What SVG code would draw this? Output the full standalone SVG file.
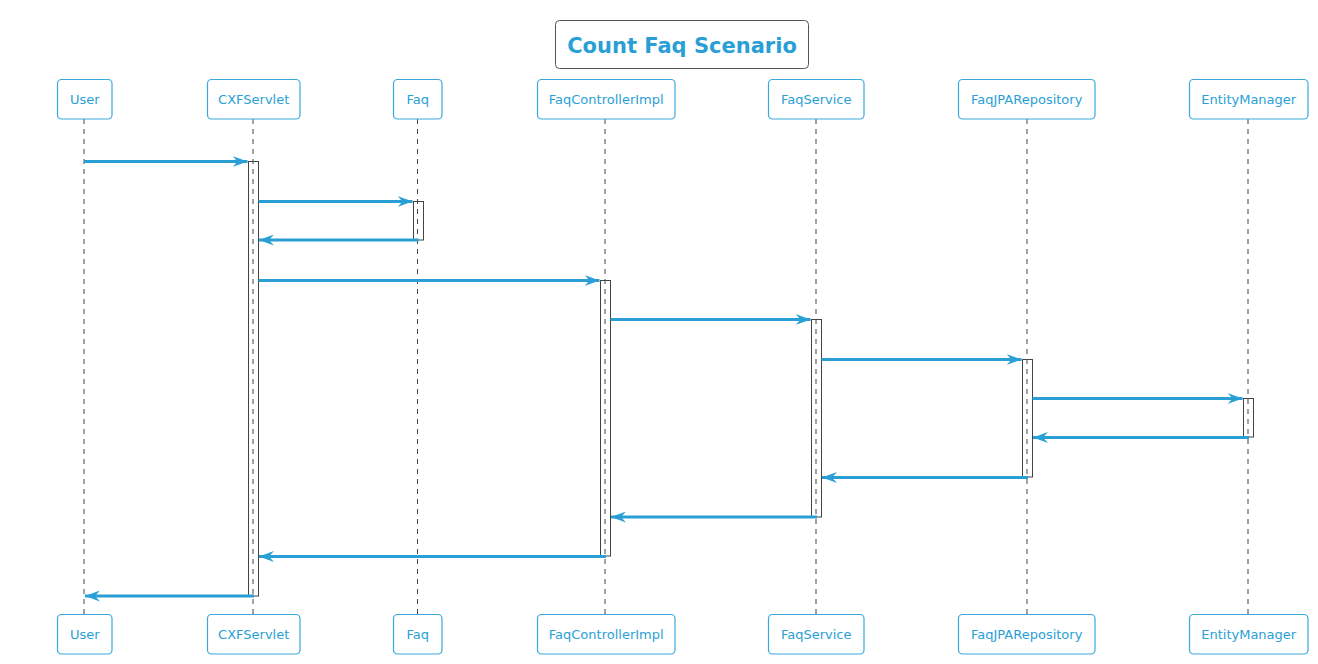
<svg xmlns="http://www.w3.org/2000/svg" width="1318" height="664" viewBox="0 0 1318 664">
<style>
.box{fill:#fff;stroke:#3aa8dc;stroke-width:1.2}
.lbl{font-family:"DejaVu Sans",sans-serif;font-size:13px;fill:#2a9fd6;text-anchor:middle}
.life{stroke:#444;stroke-width:1;stroke-dasharray:5,5}
.act{fill:none;stroke:#444;stroke-width:1}
.msg{stroke:#2a9fd6;stroke-width:3;fill:none}
</style>
<defs>
<marker id="ah" viewBox="0 0 15 11" refX="15" refY="5.5" markerWidth="15" markerHeight="11" markerUnits="userSpaceOnUse" orient="auto">
<polygon points="0,0 15,5.5 0,11 5,5.5" fill="#2a9fd6"/>
</marker>
</defs>
<rect width="1318" height="664" fill="#fff"/>
<g id="title">
<rect x="555.5" y="20.5" width="253" height="48" rx="4" fill="#fff" stroke="#555" stroke-width="1"/>
<text x="682" y="52.5" font-family="DejaVu Sans,sans-serif" font-size="21" font-weight="bold" fill="#2a9fd6" text-anchor="middle">Count Faq Scenario</text>
</g>
<g id="lifelines">
<line class="life" x1="84" y1="119" x2="84" y2="614"/>
<line class="life" x1="253" y1="119" x2="253" y2="614"/>
<line class="life" x1="417.5" y1="119" x2="417.5" y2="614"/>
<line class="life" x1="605" y1="119" x2="605" y2="614"/>
<line class="life" x1="816" y1="119" x2="816" y2="614"/>
<line class="life" x1="1027" y1="119" x2="1027" y2="614"/>
<line class="life" x1="1248" y1="119" x2="1248" y2="614"/>
</g>
<g id="User">
<rect class="box" x="57.5" y="79.5" width="54.5" height="39.5" rx="4"/>
<text class="lbl" x="84.7" y="104">User</text>
<rect class="box" x="57.5" y="614.5" width="54.5" height="39.5" rx="4"/>
<text class="lbl" x="84.7" y="639">User</text>
</g>
<g id="CXFServlet">
<rect class="box" x="207.5" y="79.5" width="92.5" height="39.5" rx="4"/>
<text class="lbl" x="253.7" y="104">CXFServlet</text>
<rect class="box" x="207.5" y="614.5" width="92.5" height="39.5" rx="4"/>
<text class="lbl" x="253.7" y="639">CXFServlet</text>
<rect class="act" x="248.5" y="161.5" width="10" height="434.5"/>
</g>
<g id="Faq">
<rect class="box" x="393.5" y="79.5" width="48.5" height="39.5" rx="4"/>
<text class="lbl" x="417.7" y="104">Faq</text>
<rect class="box" x="393.5" y="614.5" width="48.5" height="39.5" rx="4"/>
<text class="lbl" x="417.7" y="639">Faq</text>
<rect class="act" x="413.5" y="201.5" width="10" height="38.5"/>
</g>
<g id="FaqControllerImpl">
<rect class="box" x="537.5" y="79.5" width="137.5" height="39.5" rx="4"/>
<text class="lbl" x="606.2" y="104">FaqControllerImpl</text>
<rect class="box" x="537.5" y="614.5" width="137.5" height="39.5" rx="4"/>
<text class="lbl" x="606.2" y="639">FaqControllerImpl</text>
<rect class="act" x="600.5" y="280.5" width="10" height="275.5"/>
</g>
<g id="FaqService">
<rect class="box" x="768.5" y="79.5" width="95.5" height="39.5" rx="4"/>
<text class="lbl" x="816.2" y="104">FaqService</text>
<rect class="box" x="768.5" y="614.5" width="95.5" height="39.5" rx="4"/>
<text class="lbl" x="816.2" y="639">FaqService</text>
<rect class="act" x="811.5" y="319.5" width="10" height="197.5"/>
</g>
<g id="FaqJPARepository">
<rect class="box" x="958.5" y="79.5" width="136.5" height="39.5" rx="4"/>
<text class="lbl" x="1026.7" y="104">FaqJPARepository</text>
<rect class="box" x="958.5" y="614.5" width="136.5" height="39.5" rx="4"/>
<text class="lbl" x="1026.7" y="639">FaqJPARepository</text>
<rect class="act" x="1022.5" y="359.5" width="10" height="117.5"/>
</g>
<g id="EntityManager">
<rect class="box" x="1189.5" y="79.5" width="118.5" height="39.5" rx="4"/>
<text class="lbl" x="1248.7" y="104">EntityManager</text>
<rect class="box" x="1189.5" y="614.5" width="118.5" height="39.5" rx="4"/>
<text class="lbl" x="1248.7" y="639">EntityManager</text>
<rect class="act" x="1243.5" y="398.5" width="10" height="38.5"/>
</g>
<g id="connectors">
<line class="msg" x1="84" y1="161.5" x2="247.5" y2="161.5" marker-end="url(#ah)"/>
<line class="msg" x1="258.5" y1="201.5" x2="412.5" y2="201.5" marker-end="url(#ah)"/>
<line class="msg" x1="418.5" y1="240" x2="259" y2="240" marker-end="url(#ah)"/>
<line class="msg" x1="258.5" y1="280.5" x2="599.5" y2="280.5" marker-end="url(#ah)"/>
<line class="msg" x1="610.5" y1="319.5" x2="810.5" y2="319.5" marker-end="url(#ah)"/>
<line class="msg" x1="821.5" y1="359.5" x2="1021.5" y2="359.5" marker-end="url(#ah)"/>
<line class="msg" x1="1032.5" y1="398.5" x2="1242.5" y2="398.5" marker-end="url(#ah)"/>
<line class="msg" x1="1249" y1="437.5" x2="1033" y2="437.5" marker-end="url(#ah)"/>
<line class="msg" x1="1028" y1="477.5" x2="822" y2="477.5" marker-end="url(#ah)"/>
<line class="msg" x1="817" y1="517" x2="611" y2="517" marker-end="url(#ah)"/>
<line class="msg" x1="606" y1="556.5" x2="259" y2="556.5" marker-end="url(#ah)"/>
<line class="msg" x1="254" y1="596" x2="85" y2="596" marker-end="url(#ah)"/>
</g>
</svg>
